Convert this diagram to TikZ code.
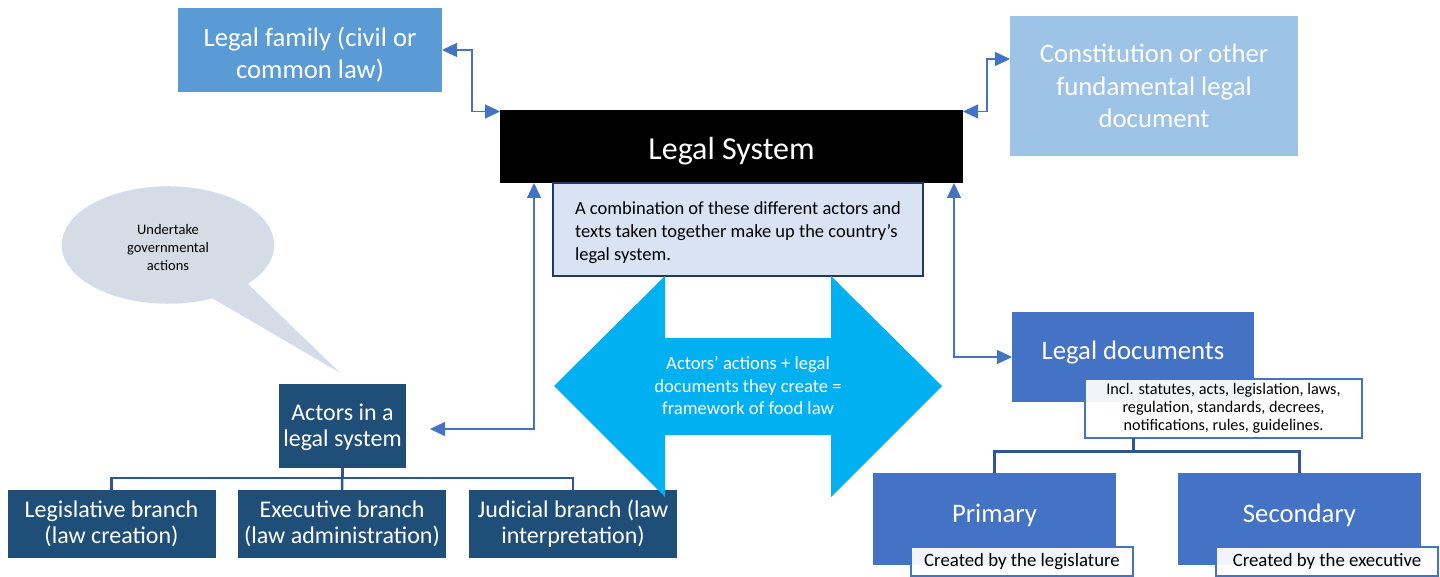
\documentclass[tikz,border=0pt]{standalone}
\usepackage{fontspec}
\setmainfont{Carlito}
\usetikzlibrary{arrows.meta,calc}
\definecolor{famblue}{HTML}{5B9BD5}
\definecolor{constblue}{HTML}{9DC3E6}
\definecolor{descfill}{HTML}{DAE3F3}
\definecolor{descline}{HTML}{1F3864}
\definecolor{navy}{HTML}{1F4E79}
\definecolor{midblue}{HTML}{4472C4}
\definecolor{treeblue}{HTML}{2F5597}
\definecolor{cyanarrow}{HTML}{00B0F0}
\definecolor{bubblefill}{HTML}{D6DCE5}
\definecolor{bubbleline}{HTML}{D3DDF0}
\newcommand{\shiftv}[2]{\raisebox{#1}[\height][\depth]{#2}}
\begin{document}
\begin{tikzpicture}[x=1pt,y=-1pt,
  box/.style={rectangle, inner sep=0pt, outer sep=0pt, align=center, text=white},
  bigtext/.style={font=\fontsize{26.7}{32.5}\selectfont},
  midtext/.style={font=\fontsize{24}{26}\selectfont},
  conn/.style={draw=midblue, line width=1.3pt, {Triangle[length=15pt,width=14pt]}-{Triangle[length=15pt,width=14pt]}},
  treeL/.style={draw=treeblue, line width=2.5pt},
  treeR/.style={draw=treeblue, line width=3pt},
  notebox/.style={rectangle, inner sep=0pt, outer sep=0pt, align=center, fill=white, draw=midblue, line width=2.5pt, text=black}
]
\useasboundingbox (0,0) rectangle (1440,577);

% top boxes
\node[box, bigtext, fill=famblue, minimum width=264pt, minimum height=84pt] (fam) at (310,50) {\shiftv{-6pt}{\begin{tabular}{@{}c@{}}Legal family (civil or\\common law)\end{tabular}}};
\node[box, bigtext, fill=constblue, minimum width=288pt, minimum height=140pt] (const) at (1154,86) {Constitution or other\\fundamental legal\\document};
\node[box, font=\fontsize{32}{36}\selectfont, fill=black, minimum width=463pt, minimum height=73pt] (ls) at (731.5,146.5) {\shiftv{-5pt}{Legal System}};
\node[rectangle, inner sep=0pt, outer sep=0pt, align=left, fill=descfill, draw=descline, line width=2pt, minimum width=370pt, minimum height=93pt, font=\fontsize{18.5}{23}\selectfont] (desc) at (738,229.5) {\shiftv{-3pt}{\begin{tabular}{@{}l@{}}A combination of these different actors and\\texts taken together make up the country’s\\legal system.\end{tabular}}};

% speech bubble
\draw[fill=bubblefill, draw=bubbleline, line width=1.5pt]
  (168,245) ++(65:105.5 and 58) arc[start angle=65, end angle=401.8, x radius=105.5, y radius=58] -- (335,369) -- cycle;
\node[align=center, font=\fontsize{14.5}{18}\selectfont, inner sep=0pt] (bt) at (168,248) {Undertake\\governmental\\actions};

% actors
\node[box, midtext, fill=navy, minimum width=127pt, minimum height=84pt] (act) at (342.5,426) {\shiftv{-2pt}{\begin{tabular}{@{}c@{}}Actors in a\\legal system\end{tabular}}};
\node[box, midtext, fill=navy, minimum width=208pt, minimum height=68pt] (leg) at (111.5,524) {Legislative branch\\(law creation)};
\node[box, midtext, fill=navy, minimum width=208pt, minimum height=68pt] (exe) at (342,524) {Executive branch\\(law administration)};
\node[box, midtext, fill=navy, minimum width=208pt, minimum height=68pt] (jud) at (573,524) {Judicial branch (law\\interpretation)};
\draw[treeL] (act.south) -- ++(0,10) -| (leg.north);
\draw[treeL] (act.south) -- ++(0,10) -| (jud.north);
\draw[treeL] (act.south) -- (exe.north);

% legal documents
\node[box, bigtext, fill=midblue, minimum width=242pt, minimum height=90pt] (ld) at (1133,357) {\shiftv{4pt}{Legal documents}};
\node[notebox, font=\fontsize{16.2}{18}\selectfont, minimum width=277pt, minimum height=59pt, fill opacity=0.93, text opacity=1] (incl) at (1223.5,408.5) {Incl. statutes, acts, legislation, laws,\\regulation, standards, decrees,\\notifications, rules, guidelines.};
\node[box, bigtext, fill=midblue, minimum width=243pt, minimum height=92pt] (pri) at (994.5,519) {\shiftv{4pt}{Primary}};
\node[box, bigtext, fill=midblue, minimum width=243pt, minimum height=92pt] (sec) at (1299.5,519) {\shiftv{4pt}{Secondary}};
\node[notebox, font=\fontsize{18.8}{22}\selectfont, minimum width=222pt, minimum height=29pt, fill opacity=0.93, text opacity=1] (cl) at (1022,561.5) {Created by the legislature};
\node[notebox, font=\fontsize{18.8}{22}\selectfont, minimum width=222pt, minimum height=29pt, fill opacity=0.93, text opacity=1] (ce) at (1327,561.5) {Created by the executive};
\draw[treeR] (ld.south |- incl.south) -- ++(0,13) -| (pri.north);
\draw[treeR] (ld.south |- incl.south) -- ++(0,13) -| (sec.north);

% connectors
\draw[conn] (fam.east) -- ++(30,0) |- ($(ls.north west)+(0,1.5)$);
\draw[conn] ($(ls.north east)+(0,1.5)$) -- ++(24,0) |- ($(const.west)+(0,-27)$);
\draw[conn] ($(act.east)+(24,3)$) -| ($(ls.south west)+(34,0)$);
\draw[conn] ($(ls.south east)+(-9,0)$) |- (ld.west);

% central double arrow
\fill[cyanarrow] (554,386) -- (665,276) -- (665,338) -- (831,338) -- (831,276) -- (942,386) -- (831,497) -- (831,435) -- (665,435) -- (665,497) -- cycle;
\node[align=center, text=white, font=\fontsize{18.6}{22.5}\selectfont, inner sep=0pt] (fw) at (748,386) {Actors’ actions + legal\\documents they create =\\framework of food law};
\end{tikzpicture}
\end{document}
